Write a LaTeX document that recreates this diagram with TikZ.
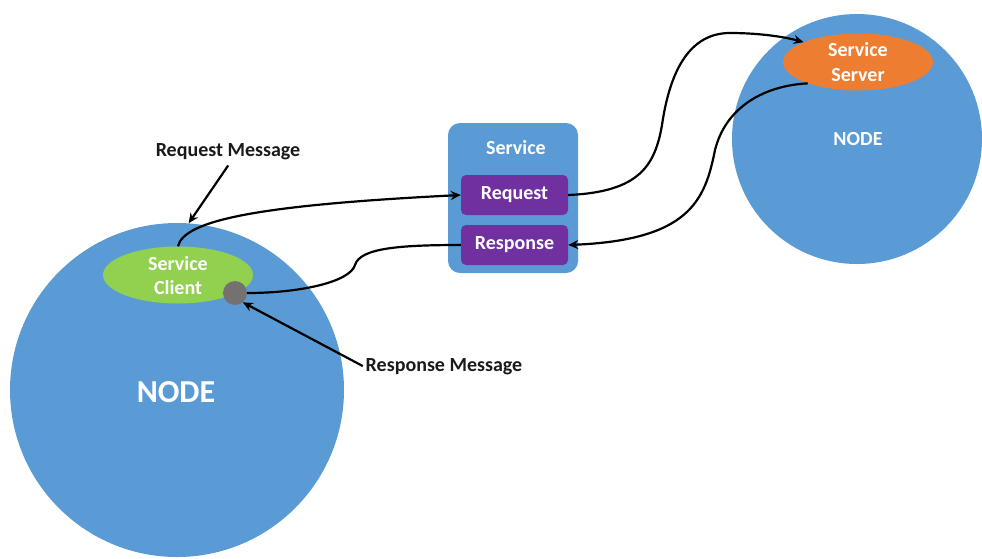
\documentclass[tikz,border=0pt]{standalone}
\usepackage{fontspec}
\setmainfont{Carlito}
\usetikzlibrary{shapes.geometric,arrows.meta}
\definecolor{nodeblue}{HTML}{5B9BD5}
\definecolor{boxblue}{HTML}{5B9BD5}
\definecolor{msgpurple}{HTML}{7030A0}
\definecolor{clientgreen}{HTML}{92D050}
\definecolor{serverorange}{HTML}{ED7D31}
\definecolor{dotgray}{HTML}{767171}
\definecolor{txtblack}{HTML}{1A1A1A}
\begin{document}
\begin{tikzpicture}[x=1pt,y=-1pt,
  rosnode/.style={circle,fill=nodeblue,inner sep=0pt,minimum size=#1},
  endpoint/.style={ellipse,fill=#1,inner sep=0pt,minimum width=150pt,minimum height=57pt},
  msgbox/.style={rectangle,rounded corners=5pt,fill=msgpurple,inner sep=0pt,minimum width=107pt,minimum height=40pt,text=white,font=\fontsize{20}{22}\selectfont\bfseries},
  whitetxt/.style={text=white,inner sep=0pt,font=\fontsize{20}{22}\selectfont\bfseries},
  blacktxt/.style={text=txtblack,inner sep=1pt,font=\fontsize{20}{22}\selectfont\bfseries},
  conn/.style={draw=black,line width=2.2pt},
  arr/.style={conn,-{Stealth[length=10pt,width=9pt]}}
]
\useasboundingbox (0,0) rectangle (982,558);

% nodes (circles)
\node[rosnode=334pt] (lnode) at (177,390) {};
\node[rosnode=250pt] (rnode) at (857,139) {};
\node[whitetxt,font=\fontsize{32}{34}\selectfont\bfseries] (lnodetxt) at (176,392) {NODE};
\node[whitetxt,font=\fontsize{20}{22}\selectfont\bfseries] (rnodetxt) at (858,139) {NODE};

% client and server
\node[endpoint=clientgreen] (client) at (178,275) {};
\node[whitetxt] (clienta) at (178,264) {Service};
\node[whitetxt] (clientb) at (178,288) {Client};
\node[circle,fill=dotgray,inner sep=0pt,minimum size=24pt] (dot) at (235,293) {};

\node[endpoint=serverorange] (server) at (858,62) {};
\node[whitetxt] (servera) at (858,50) {Service};
\node[whitetxt] (serverb) at (858,75) {Server};

% service box
\node[rectangle,rounded corners=12pt,fill=boxblue,minimum width=130pt,minimum height=150pt,inner sep=0pt] (svc) at (513,198) {};
\node[whitetxt] (svctxt) at (516,148) {Service};
\node[msgbox] (req) at (514.5,195) {Request};
\node[msgbox] (resp) at (514.5,245) {Response};

% message labels
\node[blacktxt] (rqmsg) at (228,152) {Request Message};
\node[blacktxt] (rsmsg) at (444,367) {Response Message};

% connectors
\draw[arr] (client.north) .. controls (184,220) and (260,205) .. (req.west);
\draw[arr] (req.east) .. controls (640,192) and (655,165) .. (662,125)
  .. controls (670,70) and (690,33) .. (730,33)
  .. controls (760,33) and (785,37) .. (server.160);
\draw[arr] (server.203) .. controls (760,86) and (725,110) .. (715,150)
  .. controls (705,200) and (690,240) .. (resp.east);
\draw[conn] (resp.west) .. controls (400,245) and (360,248) .. (355,265)
  .. controls (350,282) and (300,293) .. (dot.east);
\draw[arr,shorten <=5pt] ([xshift=3pt]rqmsg.south) -- (lnode.86.5);
\draw[arr,shorten <=2pt] (rsmsg.west) -- (dot.-50);
\end{tikzpicture}
\end{document}
